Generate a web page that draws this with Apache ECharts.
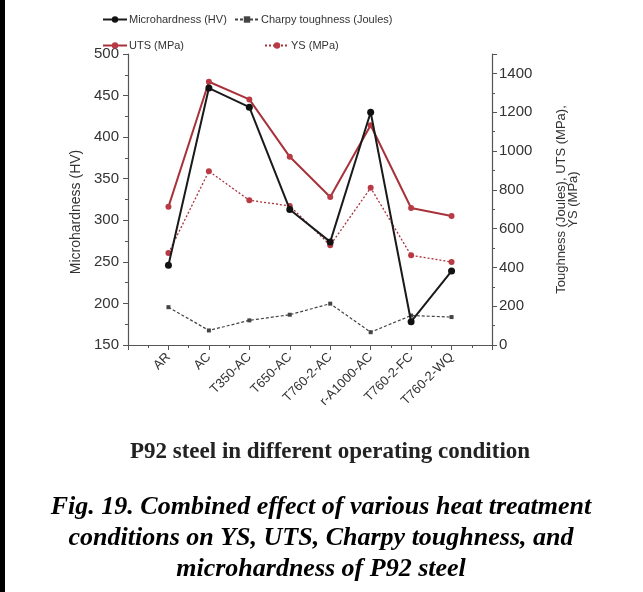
<!DOCTYPE html>
<html>
<head>
<meta charset="utf-8">
<script src="https://cdn.jsdelivr.net/npm/echarts@6/dist/echarts.min.js"></script>
<style>
html,body{margin:0;padding:0;background:#fff;}
#chart{width:643px;height:592px;}
</style>
</head>
<body>
<div id="chart"></div>
<script>
// treatment conditions, plotted at x = 1..8
var conditions = ['AR', 'AC', 'T350-AC', 'T650-AC', 'T760-2-AC', 'r-A1000-AC', 'T760-2-FC', 'T760-2-WQ'];
var microhardness = [246, 459, 436, 313, 274, 430, 178, 239];   // HV, left axis
var charpy = [195, 75, 127, 156, 213, 66, 152, 144];           // Joules, right axis
var uts = [712, 1357, 1266, 970, 763, 1133, 706, 665];          // MPa, right axis
var ys = [474, 896, 746, 717, 514, 810, 462, 428];              // MPa, right axis

function pts(arr){
  var out = [];
  for (var i = 0; i < arr.length; i++) out.push([i + 1, arr[i]]);
  return out;
}

var axisCol = '#555';
var txtCol = '#333';
var chart = echarts.init(document.getElementById('chart'));

var legendBase = {
  orient: 'horizontal',
  itemWidth: 24, itemHeight: 8, itemGap: 4,
  textStyle: {fontFamily: 'Liberation Sans', fontSize: 11, color: txtCol, padding: [0, 0, 0, -3]}
};

chart.setOption({
  animation: false,
  legend: [
    Object.assign({}, legendBase, {left: 97, top: 9, data: ['Microhardness (HV)']}),
    Object.assign({}, legendBase, {left: 229, top: 9, data: ['Charpy toughness (Joules)']}),
    Object.assign({}, legendBase, {left: 97, top: 35, data: ['UTS (MPa)']}),
    Object.assign({}, legendBase, {left: 259, top: 35, data: ['YS (MPa)']})
  ],
  grid: {left: 128, right: 151, top: 54, bottom: 247},
  xAxis: {
    type: 'value', min: 0, max: 9, interval: 1,
    axisLine: {lineStyle: {color: axisCol, width: 1.2}},
    axisTick: {length: 5, lineStyle: {color: axisCol}},
    minorTick: {show: true, splitNumber: 2, length: 3, lineStyle: {color: axisCol}},
    splitLine: {show: false},
    axisLabel: {
      rotate: 45, margin: 10, color: txtCol, fontFamily: 'Liberation Sans', fontSize: 13,
      formatter: function(v){ return (v >= 1 && v <= 8) ? conditions[v - 1] : ''; }
    }
  },
  yAxis: [
    {
      type: 'value', position: 'left', min: 150, max: 500, interval: 50,
      name: 'Microhardness (HV)', nameLocation: 'middle', nameGap: 39, nameRotate: 90,
      nameTextStyle: {fontFamily: 'Liberation Sans', fontSize: 14, color: txtCol, padding: [0, 0, 0, -25]},
      axisLine: {show: true, lineStyle: {color: axisCol, width: 1.2}},
      axisTick: {show: true, length: 5, lineStyle: {color: axisCol}},
      minorTick: {show: true, splitNumber: 2, length: 3, lineStyle: {color: axisCol}},
      splitLine: {show: false},
      axisLabel: {margin: 9, color: txtCol, fontFamily: 'Liberation Sans', fontSize: 15}
    },
    {
      type: 'value', position: 'right', min: 0, max: 1500, interval: 200,
      name: 'Toughness (Joules), UTS (MPa),\nYS (MPa)', nameLocation: 'middle', nameGap: 63, nameRotate: 90,
      nameTextStyle: {fontFamily: 'Liberation Sans', fontSize: 13, color: txtCol, lineHeight: 12},
      axisLine: {show: true, lineStyle: {color: axisCol, width: 1.2}},
      axisTick: {show: true, length: 5, lineStyle: {color: axisCol}},
      minorTick: {show: true, splitNumber: 2, length: 3, lineStyle: {color: axisCol}},
      splitLine: {show: false},
      axisLabel: {margin: 7, color: txtCol, fontFamily: 'Liberation Sans', fontSize: 15, showMaxLabel: false,
        formatter: function(v){ return String(v); }}
    }
  ],
  series: [
    {
      name: 'Microhardness (HV)', type: 'line', yAxisIndex: 0, data: pts(microhardness),
      symbol: 'circle', symbolSize: 7, z: 5,
      lineStyle: {color: '#1a1a1a', width: 2}, itemStyle: {color: '#111'}
    },
    {
      name: 'Charpy toughness (Joules)', type: 'line', yAxisIndex: 1, data: pts(charpy),
      symbol: 'rect', symbolSize: 4,
      lineStyle: {color: '#444', width: 1.2, type: [3, 2]}, itemStyle: {color: '#444'}
    },
    {
      name: 'UTS (MPa)', type: 'line', yAxisIndex: 1, data: pts(uts),
      symbol: 'circle', symbolSize: 6,
      lineStyle: {color: '#a8323a', width: 2}, itemStyle: {color: '#b83a44'}
    },
    {
      name: 'YS (MPa)', type: 'line', yAxisIndex: 1, data: pts(ys),
      symbol: 'circle', symbolSize: 6,
      lineStyle: {color: '#a8323a', width: 1.3, type: [2, 2]}, itemStyle: {color: '#b83a44'}
    }
  ],
  graphic: [
    {type: 'rect', left: 0, top: 0, shape: {width: 5, height: 592}, style: {fill: '#000'}},
    {type: 'text', x: 330, y: 452, style: {
      text: 'P92 steel in different operating condition',
      font: 'bold 23px "Liberation Serif"', fill: '#222', align: 'center', verticalAlign: 'middle'}},
    {type: 'text', x: 321, y: 492, style: {
      text: 'Fig. 19. Combined effect of various heat treatment\nconditions on YS, UTS, Charpy toughness, and\nmicrohardness of P92 steel',
      font: 'italic bold 26px "Liberation Serif"', fill: '#000', align: 'center', verticalAlign: 'top', lineHeight: 31}}
  ]
});
</script>
</body>
</html>
